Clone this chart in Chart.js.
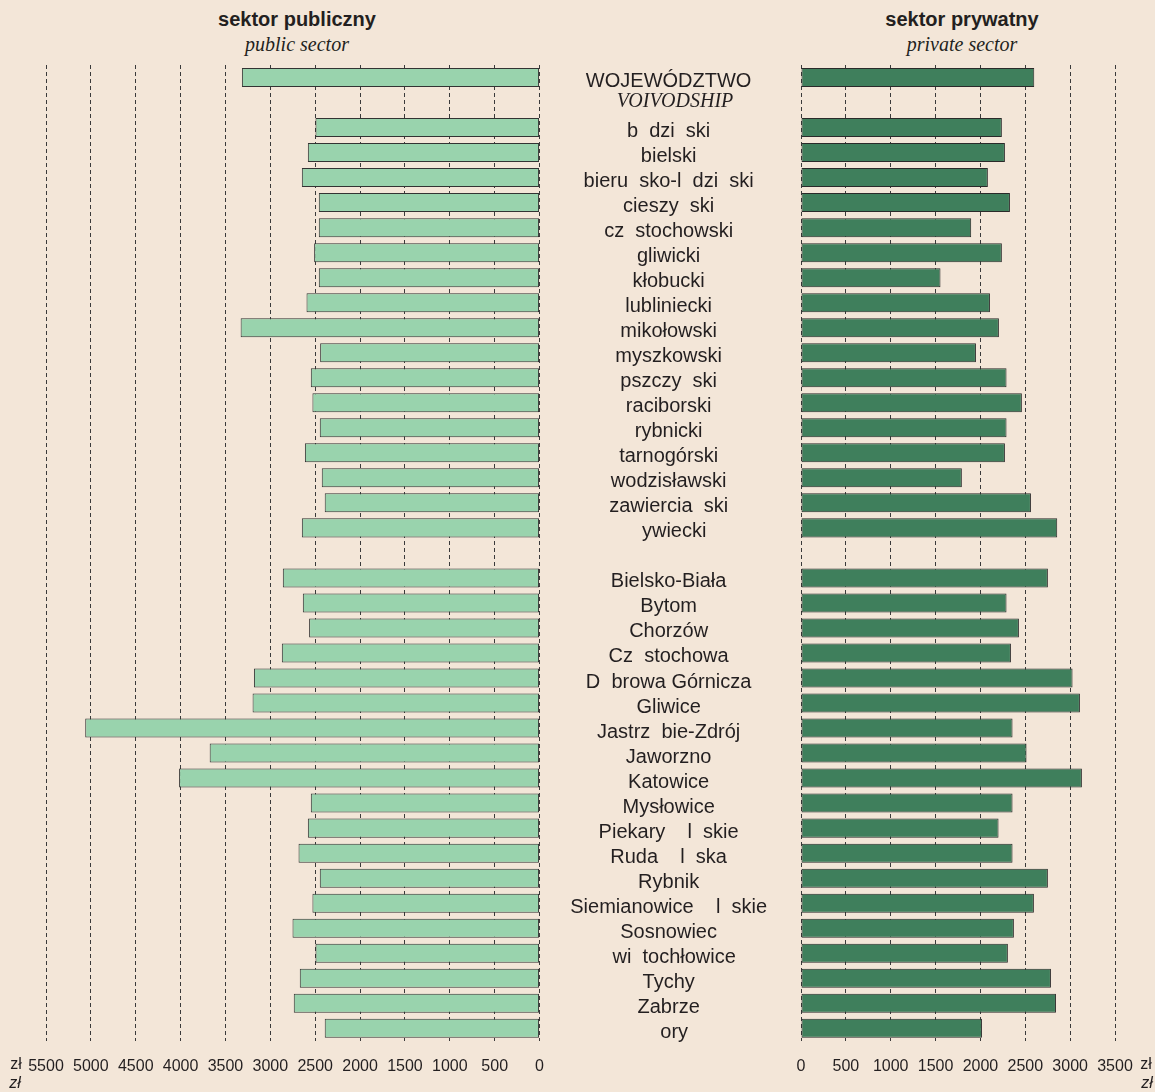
<!DOCTYPE html>
<html>
<head>
<meta charset="utf-8">
<script src="https://cdn.jsdelivr.net/npm/chart.js@4"></script>
<style>
  html, body { margin: 0; padding: 0; background: #f3e6d8; }
  #wrap { position: relative; width: 1155px; height: 1092px; background: #f3e6d8; overflow: hidden;
          font-family: "Liberation Sans", Arial, sans-serif; color: #231f20; }
  canvas { position: absolute; top: 0; }
  .t { position: absolute; text-align: center; white-space: nowrap; }
  .head { font-weight: bold; font-size: 20px; }
  .sub { font-family: "Liberation Serif", "Times New Roman", serif; font-style: italic; font-size: 20px; }
  .unit { font-size: 16px; }
  .unit-i { font-size: 16px; font-style: italic; }
</style>
</head>
<body>
<div id="wrap">
  <div class="t head" style="left:147px;width:300px;top:8px;">sektor publiczny</div>
  <div class="t sub" style="left:147px;width:300px;top:33px;">public sector</div>
  <div class="t head" style="left:812px;width:300px;top:8px;">sektor prywatny</div>
  <div class="t sub" style="left:812px;width:300px;top:33px;">private sector</div>

  <canvas id="left" width="560" height="1092" style="left:0px;"></canvas>
  <canvas id="right" width="615" height="1092" style="left:540px;"></canvas>

  <div class="t unit" style="left:2px;width:28px;top:1055px;">zł</div>
  <div class="t unit-i" style="left:1px;width:28px;top:1074px;">zł</div>
  <div class="t unit" style="left:1132px;width:28px;top:1055px;">zł</div>
  <div class="t unit-i" style="left:1133px;width:28px;top:1074px;">zł</div>
</div>

<script>
// row labels (empty strings are the gaps between groups)
const categories = [
  "WOJEWÓDZTWO", "",
  "b  dzi  ski", "bielski", "bieru  sko-l  dzi  ski", "cieszy  ski", "cz  stochowski",
  "gliwicki", "kłobucki", "lubliniecki", "mikołowski", "myszkowski", "pszczy  ski",
  "raciborski", "rybnicki", "tarnogórski", "wodzisławski", "zawiercia  ski", "  ywiecki",
  "",
  "Bielsko-Biała", "Bytom", "Chorzów", "Cz  stochowa", "D  browa Górnicza", "Gliwice",
  "Jastrz  bie-Zdrój", "Jaworzno", "Katowice", "Mysłowice", "Piekary    l  skie",
  "Ruda    l  ska", "Rybnik", "Siemianowice    l  skie", "Sosnowiec", "  wi  tochłowice",
  "Tychy", "Zabrze", "  ory"
];

const publicValues = [
  3317, null,
  2497, 2582, 2649, 2460, 2460, 2512, 2460, 2597, 3331, 2445, 2549, 2531, 2449, 2615, 2427, 2394, 2649,
  null,
  2861, 2638, 2568, 2872, 3183, 3198, 5063, 3676, 4017, 2549, 2582, 2686, 2449, 2531, 2753, 2497, 2672, 2739, 2394
];

const privateValues = [
  2600, null,
  2239, 2273, 2083, 2329, 1897, 2239, 1555, 2106, 2206, 1950, 2291, 2462, 2291, 2273, 1793, 2563, 2856,
  null,
  2752, 2291, 2429, 2340, 3027, 3109, 2358, 2514, 3131, 2358, 2202, 2358, 2752, 2596, 2373, 2306, 2786, 2842, 2017
];

const publicMax = 5500;
const privateMax = 3500;
const tickStep = 500;

const sans = "'Liberation Sans', Arial, sans-serif";
const ink = "#231f20";

function xAxis(max, reverse) {
  return {
    reverse: reverse,
    min: 0,
    max: max,
    ticks: {
      stepSize: tickStep,
      autoSkip: false,
      maxRotation: 0,
      minRotation: 0,
      padding: 16,
      color: ink,
      font: { family: sans, size: 16 },
      callback: function (value) {
        return String(value);
      },
    },
    grid: { color: "#3a3a3a", lineWidth: 1, drawTicks: false },
    border: { display: false, dash: [4, 3] },
  };
}

// second line under the voivodship label
const voivodshipLine = {
  id: "voivodshipLine",
  afterDraw(chart) {
    const ctx = chart.ctx;
    const y = chart.scales.y.getPixelForValue(0);
    ctx.save();
    ctx.font = "italic 20px 'Liberation Serif', 'Times New Roman', serif";
    ctx.fillStyle = ink;
    ctx.textAlign = "center";
    ctx.textBaseline = "alphabetic";
    ctx.fillText("VOIVODSHIP", 135, y + 29);
    ctx.restore();
  },
};

document.addEventListener("DOMContentLoaded", function () {
  const left = document.getElementById("left");
  new Chart(left, {
    type: "bar",
    data: {
      labels: categories,
      datasets: [
        {
          data: publicValues,
          backgroundColor: "#99d3ad",
          borderColor: "#333333",
          borderWidth: 1,
          borderSkipped: false,
          categoryPercentage: 0.76,
          barPercentage: 1,
        },
      ],
    },
    options: {
      indexAxis: "y",
      responsive: false,
      animation: false,
      layout: { padding: { left: 46, right: 18, top: 65, bottom: 0 } },
      scales: {
        x: xAxis(publicMax, true),
        y: { display: false },
      },
      plugins: {
        legend: { display: false },
        tooltip: { enabled: false },
      },
    },
  });

  const right = document.getElementById("right");
  new Chart(right, {
    type: "bar",
    data: {
      labels: categories,
      datasets: [
        {
          data: privateValues,
          backgroundColor: "#3f7f5c",
          borderColor: "#2a2a2a",
          borderWidth: 1,
          borderSkipped: false,
          categoryPercentage: 0.76,
          barPercentage: 1,
        },
      ],
    },
    options: {
      indexAxis: "y",
      responsive: false,
      animation: false,
      layout: { padding: { left: 0, right: 40, top: 65, bottom: 0 } },
      scales: {
        x: xAxis(privateMax, false),
        y: {
          afterFit: function (scale) {
            scale.width = 261;
          },
          grid: { display: false },
          border: { display: false },
          ticks: {
            autoSkip: false,
            crossAlign: "center",
            padding: 26,
            labelOffset: 4,
            color: ink,
            font: { family: sans, size: 20 },
          },
        },
      },
      plugins: {
        legend: { display: false },
        tooltip: { enabled: false },
      },
    },
    plugins: [voivodshipLine],
  });
});
</script>
</body>
</html>
